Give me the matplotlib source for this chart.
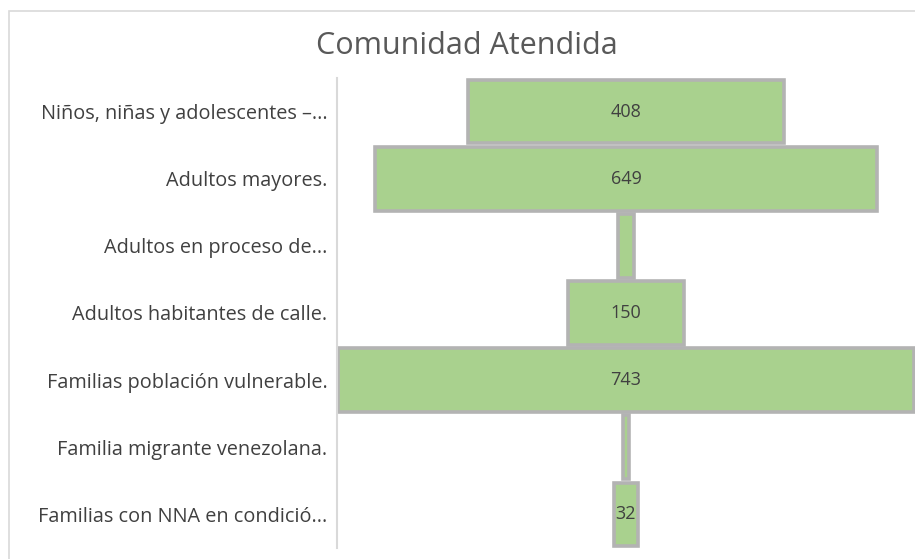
import matplotlib.pyplot as plt
from matplotlib.patches import Rectangle

# Datos del embudo
categorias = ['Niños, niñas y adolescentes –...', 'Adultos mayores.', 'Adultos en proceso de...',
              'Adultos habitantes de calle.', 'Familias población vulnerable.',
              'Familia migrante venezolana.', 'Familias con NNA en condició...']
valores = [408, 649, 20, 150, 743, 8, 32]
etiquetas = ['408', '649', '', '150', '743', '', '32']

plt.rcParams['font.family'] = ['Open Sans', 'DejaVu Sans']

fig = plt.figure(figsize=(9.15, 5.59), dpi=100)
ax = fig.add_axes([337 / 915, 11 / 559, 578 / 915, 470 / 559])

pos = list(range(len(valores)))
izq = [-v / 2 for v in valores]
ax.barh(pos, valores, left=izq, height=0.95, color='#A9D18E',
        edgecolor='#B3B3B3', linewidth=2.6)

for p, t in zip(pos, etiquetas):
    if t:
        ax.text(0, p, t, ha='center', va='center', fontsize=13, color='#404040')

ax.set_yticks(pos)
ax.set_yticklabels(categorias, fontsize=14.3, color='#404040')
ax.set_ylim(len(valores) - 0.5, -0.5)
ax.set_xlim(-373, 373)
ax.set_xticks([])
ax.tick_params(axis='y', length=0, pad=7)
for s in ['top', 'right', 'bottom']:
    ax.spines[s].set_visible(False)
ax.spines['left'].set_color('#D9D9D9')
ax.spines['left'].set_linewidth(1.5)

fig.text(467 / 915, 1 - 46 / 559, 'Comunidad Atendida', ha='center', va='center',
         fontsize=22, color='#595959')

# borde del gráfico
fig.patches.append(Rectangle((9 / 915, -0.1), 1.2, 1 - 11 / 559 + 0.1,
                             transform=fig.transFigure, fill=False,
                             edgecolor='#D9D9D9', linewidth=1.2))

plt.savefig('out.png', dpi=100)
